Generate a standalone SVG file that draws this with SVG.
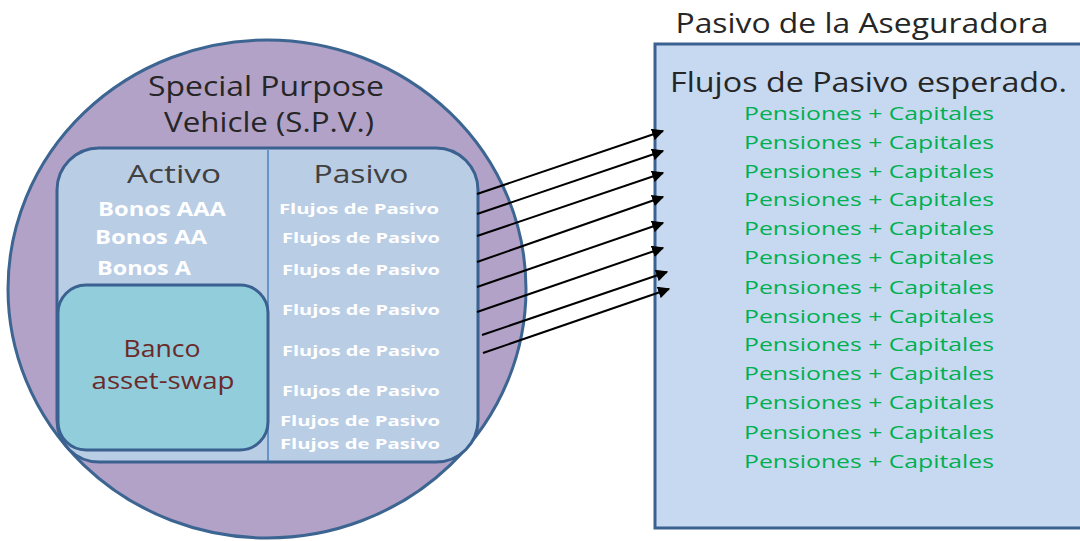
<svg xmlns="http://www.w3.org/2000/svg" width="1080" height="541" viewBox="0 0 1080 541">
<style>
text{font-family:"Open Sans","Liberation Sans",sans-serif}
.dk{fill:#262626;font-size:28px}
.hd{fill:#404040;font-size:25px}
.wb{fill:#ffffff;font-weight:bold;font-size:19px}
.wf{fill:#ffffff;font-weight:bold;font-size:15px}
.gr{fill:#00B050;font-size:19px}
.bn{fill:#6B2A2A;font-size:24px}
.arr{stroke:#000;stroke-width:2;fill:none;marker-end:url(#ah)}
</style>
<defs>
<marker id="ah" viewBox="0 0 10 10" refX="9" refY="5" markerWidth="6" markerHeight="6" markerUnits="strokeWidth" orient="auto">
<path d="M0,0 L10,5 L0,10 z" fill="#000"/>
</marker>
</defs>
<rect width="1080" height="541" fill="#ffffff"/>
<g id="spv">
<ellipse cx="267" cy="289" rx="259" ry="249" fill="#B3A2C7" stroke="#3C6592" stroke-width="3"/>
<text class="dk" x="266" y="96" text-anchor="middle" textLength="236" lengthAdjust="spacingAndGlyphs">Special Purpose</text>
<text class="dk" x="269" y="132" text-anchor="middle" textLength="210" lengthAdjust="spacingAndGlyphs">Vehicle (S.P.V.)</text>
</g>
<g id="balance">
<rect x="57" y="148" width="421" height="314" rx="42" fill="#B9CDE5" stroke="#3A6190" stroke-width="3"/>
<line x1="268" y1="150" x2="268" y2="461" stroke="#4F81BD" stroke-width="1.5"/>
<text class="hd" x="174" y="183" text-anchor="middle" textLength="94" lengthAdjust="spacingAndGlyphs">Activo</text>
<text class="hd" x="361" y="183" text-anchor="middle" textLength="95" lengthAdjust="spacingAndGlyphs">Pasivo</text>
<text class="wb" x="98" y="216" textLength="128" lengthAdjust="spacingAndGlyphs">Bonos AAA</text>
<text class="wb" x="95" y="244" textLength="112" lengthAdjust="spacingAndGlyphs">Bonos AA</text>
<text class="wb" x="97" y="275" textLength="94" lengthAdjust="spacingAndGlyphs">Bonos A</text>
<text class="wf" x="279" y="214" textLength="160" lengthAdjust="spacingAndGlyphs">Flujos de Pasivo</text>
<text class="wf" x="282" y="243" textLength="158" lengthAdjust="spacingAndGlyphs">Flujos de Pasivo</text>
<text class="wf" x="282" y="275" textLength="158" lengthAdjust="spacingAndGlyphs">Flujos de Pasivo</text>
<text class="wf" x="282" y="315" textLength="158" lengthAdjust="spacingAndGlyphs">Flujos de Pasivo</text>
<text class="wf" x="282" y="356" textLength="158" lengthAdjust="spacingAndGlyphs">Flujos de Pasivo</text>
<text class="wf" x="282" y="396" textLength="158" lengthAdjust="spacingAndGlyphs">Flujos de Pasivo</text>
<text class="wf" x="280" y="426" textLength="160" lengthAdjust="spacingAndGlyphs">Flujos de Pasivo</text>
<text class="wf" x="280" y="449" textLength="160" lengthAdjust="spacingAndGlyphs">Flujos de Pasivo</text>
</g>
<g id="banco">
<rect x="58" y="285" width="210" height="165" rx="28" fill="#92CDDC" stroke="#3A6190" stroke-width="3"/>
<text class="bn" x="162" y="357" text-anchor="middle" textLength="77" lengthAdjust="spacingAndGlyphs">Banco</text>
<text class="bn" x="163" y="389" text-anchor="middle" textLength="143" lengthAdjust="spacingAndGlyphs">asset-swap</text>
</g>
<g id="aseguradora">
<text class="dk" x="862" y="33" text-anchor="middle" font-size="26" textLength="373" lengthAdjust="spacingAndGlyphs">Pasivo de la Aseguradora</text>
<rect x="655" y="44" width="440" height="484" fill="#C6D9F1" stroke="#3B6190" stroke-width="3"/>
<text class="dk" x="670" y="92" textLength="397" lengthAdjust="spacingAndGlyphs">Flujos de Pasivo esperado.</text>
<g class="gr">
<text class="gr" x="744" y="120" textLength="250" lengthAdjust="spacingAndGlyphs">Pensiones + Capitales</text>
<text class="gr" x="744" y="149" textLength="250" lengthAdjust="spacingAndGlyphs">Pensiones + Capitales</text>
<text class="gr" x="744" y="178" textLength="250" lengthAdjust="spacingAndGlyphs">Pensiones + Capitales</text>
<text class="gr" x="744" y="206" textLength="250" lengthAdjust="spacingAndGlyphs">Pensiones + Capitales</text>
<text class="gr" x="744" y="235" textLength="250" lengthAdjust="spacingAndGlyphs">Pensiones + Capitales</text>
<text class="gr" x="744" y="264" textLength="250" lengthAdjust="spacingAndGlyphs">Pensiones + Capitales</text>
<text class="gr" x="744" y="294" textLength="250" lengthAdjust="spacingAndGlyphs">Pensiones + Capitales</text>
<text class="gr" x="744" y="323" textLength="250" lengthAdjust="spacingAndGlyphs">Pensiones + Capitales</text>
<text class="gr" x="744" y="351" textLength="250" lengthAdjust="spacingAndGlyphs">Pensiones + Capitales</text>
<text class="gr" x="744" y="380" textLength="250" lengthAdjust="spacingAndGlyphs">Pensiones + Capitales</text>
<text class="gr" x="744" y="409" textLength="250" lengthAdjust="spacingAndGlyphs">Pensiones + Capitales</text>
<text class="gr" x="744" y="439" textLength="250" lengthAdjust="spacingAndGlyphs">Pensiones + Capitales</text>
<text class="gr" x="744" y="468" textLength="250" lengthAdjust="spacingAndGlyphs">Pensiones + Capitales</text>
</g>
</g>
<g id="connectors">
<line class="arr" x1="477" y1="194" x2="663" y2="131"/>
<line class="arr" x1="477" y1="214" x2="663" y2="151"/>
<line class="arr" x1="477" y1="236" x2="663" y2="173"/>
<line class="arr" x1="477" y1="262" x2="663" y2="197"/>
<line class="arr" x1="477" y1="287" x2="663" y2="223"/>
<line class="arr" x1="477" y1="312" x2="663" y2="248"/>
<line class="arr" x1="482" y1="335" x2="667" y2="272"/>
<line class="arr" x1="483" y1="353" x2="669" y2="289"/>
</g>
</svg>
